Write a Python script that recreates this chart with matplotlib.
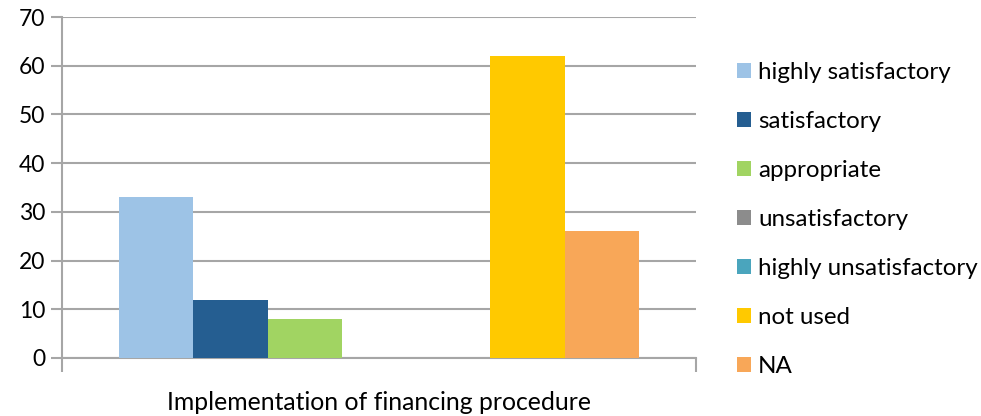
import matplotlib.pyplot as plt
import numpy as np

plt.rcParams["font.family"] = ["Lato", "DejaVu Sans"]

category = "Implementation of financing procedure"
series = ["highly satisfactory", "satisfactory", "appropriate", "unsatisfactory",
          "highly unsatisfactory", "not used", "NA"]
values = [33, 12, 8, 0, 0, 62, 26]
colors = ["#9dc3e6", "#255e91", "#a1d462", "#8c8c8c", "#4aa5bd", "#ffc900", "#f8a758"]

fig = plt.figure(figsize=(9.81, 4.16), dpi=100)
ax = fig.add_axes([62 / 981, 58 / 416, 634 / 981, 341 / 416])

n = len(series)
offsets = np.arange(n) - (n - 1) / 2
for off, val, col, name in zip(offsets, values, colors, series):
    ax.bar(off, val, width=1.0, color=col, label=name, zorder=3)

# Excel style: gap width 150% on each category
half = n / 2 + 0.77
ax.set_xlim(-half, half)
ax.set_ylim(0, 70)
ax.set_yticks(range(0, 71, 10))
ax.yaxis.grid(True, color="#a6a6a6", linewidth=1.5, zorder=0)
ax.set_axisbelow(True)

ax.set_xticks([-half, half])
ax.set_xticklabels(["", ""])
ax.tick_params(axis="x", length=10, width=1.5, color="#a6a6a6", direction="out")
ax.tick_params(axis="y", length=8, width=1.5, color="#a6a6a6", labelsize=16.5, pad=4)
ax.set_xlabel(category, fontsize=17.8, labelpad=10)

for s in ["top", "right"]:
    ax.spines[s].set_visible(False)
for s in ["left", "bottom"]:
    ax.spines[s].set_color("#a6a6a6")
    ax.spines[s].set_linewidth(1.5)

ax.legend(loc="center left", bbox_to_anchor=(1.05, 0.405), frameon=False, fontsize=17.4,
          handlelength=0.58, handleheight=0.58, handletextpad=0.28, labelspacing=1.16,
          borderaxespad=0)

fig.savefig("out.png", dpi=100)
